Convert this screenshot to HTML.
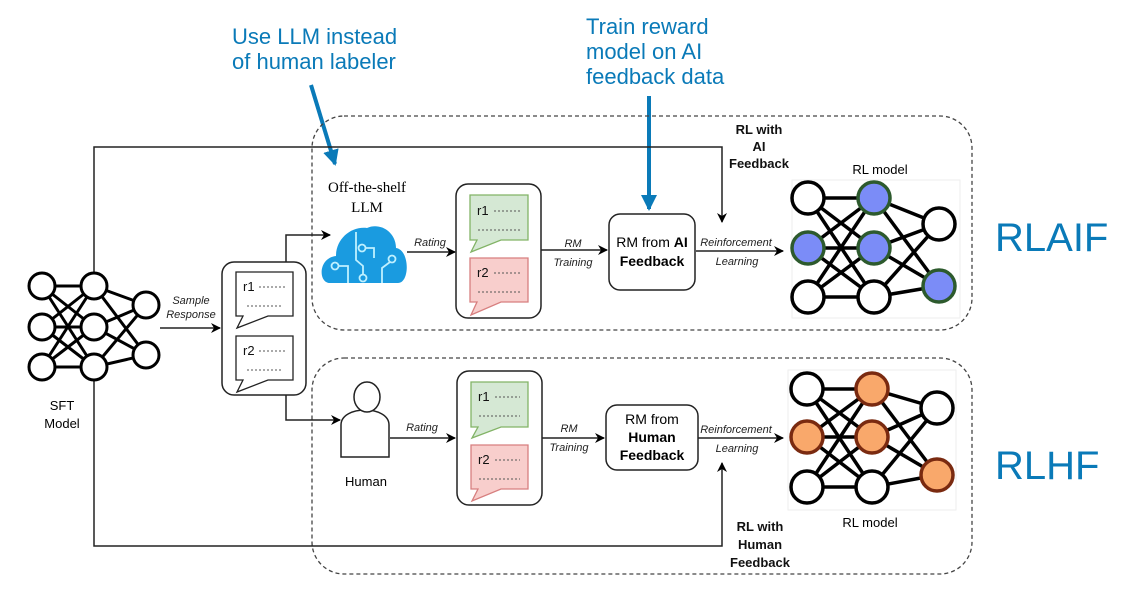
<!DOCTYPE html>
<html><head><meta charset="utf-8"><style>
html,body{margin:0;padding:0;background:#fff;}
svg{display:block;}
text{font-family:"Liberation Sans",sans-serif;}
</style></head><body>
<svg width="1138" height="606" viewBox="0 0 1138 606" xmlns="http://www.w3.org/2000/svg">
<defs>
<marker id="ar" markerWidth="10" markerHeight="10" refX="9" refY="5" orient="auto" markerUnits="userSpaceOnUse"><path d="M0,0 L10,5 L0,10 L3,5 Z" fill="#000"/></marker>
<marker id="ab" markerWidth="20" markerHeight="20" refX="14" refY="8" orient="auto" markerUnits="userSpaceOnUse"><path d="M0,0 L16,8 L0,16 Z" fill="#0a7ab8"/></marker>
</defs>

<!-- annotations -->
<g fill="#0a7ab8" font-size="22">
<text x="232" y="44">Use LLM instead</text>
<text x="232" y="69">of human labeler</text>
<text x="586" y="34">Train reward</text>
<text x="586" y="59">model on AI</text>
<text x="586" y="84">feedback data</text>
<text x="995" y="251" font-size="40">RLAIF</text>
<text x="995" y="479" font-size="40">RLHF</text>
</g>
<line x1="311" y1="85" x2="335" y2="164" stroke="#0a7ab8" stroke-width="4" marker-end="url(#ab)"/>
<line x1="649" y1="96" x2="649" y2="209" stroke="#0a7ab8" stroke-width="4" marker-end="url(#ab)"/>

<!-- dashed boxes -->
<rect x="312" y="116" width="660" height="214" rx="32" fill="none" stroke="#444" stroke-width="1.3" stroke-dasharray="4,3"/>
<rect x="312" y="358" width="660" height="216" rx="32" fill="none" stroke="#444" stroke-width="1.3" stroke-dasharray="4,3"/>

<!-- connectors -->
<g stroke="#222" stroke-width="1.5" fill="none">
<polyline points="94,272 94,147 722,147 722,222" marker-end="url(#ar)"/>
<polyline points="94,380 94,546 722,546 722,463" marker-end="url(#ar)"/>
<line x1="160" y1="328" x2="220" y2="328" marker-end="url(#ar)"/>
<polyline points="286,262 286,235 330,235" marker-end="url(#ar)"/>
<polyline points="286,395 286,420 340,420" marker-end="url(#ar)"/>
<line x1="407" y1="252" x2="455" y2="252" marker-end="url(#ar)"/>
<line x1="541" y1="250" x2="607" y2="250" marker-end="url(#ar)"/>
<line x1="696" y1="251" x2="783" y2="251" marker-end="url(#ar)"/>
<line x1="390" y1="438" x2="455" y2="438" marker-end="url(#ar)"/>
<line x1="542" y1="438" x2="604" y2="438" marker-end="url(#ar)"/>
<line x1="698" y1="438" x2="783" y2="438" marker-end="url(#ar)"/>
</g>

<g font-size="11" font-style="italic" fill="#222" text-anchor="middle">
<text x="191" y="304">Sample</text><text x="191" y="318">Response</text>
<text x="430" y="246">Rating</text>
<text x="573" y="247">RM</text><text x="573" y="266">Training</text>
<text x="736" y="246">Reinforcement</text><text x="737" y="265">Learning</text>
<text x="422" y="431">Rating</text>
<text x="569" y="432">RM</text><text x="569" y="451">Training</text>
<text x="736" y="433">Reinforcement</text><text x="737" y="452">Learning</text>
</g>

<g font-size="13" font-weight="bold" fill="#111" text-anchor="middle">
<text x="759" y="134">RL with</text><text x="759" y="151">AI</text><text x="759" y="168">Feedback</text>
<text x="760" y="531">RL with</text><text x="760" y="549">Human</text><text x="760" y="567">Feedback</text>
</g>

<!-- SFT network -->
<g stroke="#000" stroke-width="3">
<line x1="42" y1="286" x2="94" y2="286"/><line x1="42" y1="286" x2="94" y2="327"/><line x1="42" y1="286" x2="94" y2="367"/>
<line x1="42" y1="327" x2="94" y2="286"/><line x1="42" y1="327" x2="94" y2="327"/><line x1="42" y1="327" x2="94" y2="367"/>
<line x1="42" y1="367" x2="94" y2="286"/><line x1="42" y1="367" x2="94" y2="327"/><line x1="42" y1="367" x2="94" y2="367"/>
<line x1="94" y1="286" x2="146" y2="305"/><line x1="94" y1="286" x2="146" y2="355"/>
<line x1="94" y1="327" x2="146" y2="305"/><line x1="94" y1="327" x2="146" y2="355"/>
<line x1="94" y1="367" x2="146" y2="305"/><line x1="94" y1="367" x2="146" y2="355"/>
</g>
<g fill="#fff" stroke="#000" stroke-width="3">
<circle cx="42" cy="286" r="13"/><circle cx="42" cy="327" r="13"/><circle cx="42" cy="367" r="13"/>
<circle cx="94" cy="286" r="13"/><circle cx="94" cy="327" r="13"/><circle cx="94" cy="367" r="13"/>
<circle cx="146" cy="305" r="13"/><circle cx="146" cy="355" r="13"/>
</g>
<text x="62" y="410" font-size="13" text-anchor="middle">SFT</text>
<text x="62" y="428" font-size="13" text-anchor="middle">Model</text>

<!-- response box -->
<rect x="222" y="262" width="84" height="133" rx="12" fill="#fff" stroke="#222" stroke-width="1.5"/>
<g fill="#fff" stroke="#222" stroke-width="1.3">
<path d="M236,272 H293 V316 H268 L237,328 L243,316 H236 Z"/>
<path d="M236,336 H293 V380 H268 L237,392 L243,380 H236 Z"/>
</g>
<g font-size="13" fill="#111"><text x="243" y="291">r1</text><text x="243" y="355">r2</text></g>
<g stroke="#555" stroke-width="1" stroke-dasharray="2,2">
<line x1="259" y1="287" x2="285" y2="287"/><line x1="247" y1="306" x2="281" y2="306"/>
<line x1="259" y1="351" x2="285" y2="351"/><line x1="247" y1="370" x2="281" y2="370"/>
</g>

<!-- cloud LLM -->
<text x="367" y="192" font-size="15" text-anchor="middle" style="font-family:'Liberation Serif',serif">Off-the-shelf</text>
<text x="367" y="212" font-size="15" text-anchor="middle" style="font-family:'Liberation Serif',serif">LLM</text>
<path d="M330,283 C318,283 318,258 336,256 C336,238 352,226 367,228 C380,222 396,232 396,248 C410,250 410,283 398,283 Z" fill="#1a9be0"/>
<g stroke="#bff0ff" stroke-width="1.8" fill="none">
<polyline points="356,232 356,260 363,266 363,275"/>
<polyline points="348,283 348,266 338,266"/>
<circle cx="335" cy="266" r="3.5"/>
<circle cx="363" cy="278" r="3.5"/>
<polyline points="366,248 374,248 374,258"/>
<circle cx="362" cy="248" r="3.5"/>
<polyline points="382,283 382,268 390,262"/>
<circle cx="392" cy="259" r="3.5"/>
</g>

<!-- rating box top -->
<rect x="456" y="184" width="85" height="134" rx="12" fill="#fff" stroke="#222" stroke-width="1.5"/>
<path d="M470,195 H528 V240 H501 L471,252 L477,240 H470 Z" fill="#d5e8d4" stroke="#82b366" stroke-width="1.3"/>
<path d="M470,258 H528 V302 H501 L471,315 L477,302 H470 Z" fill="#f8cecc" stroke="#d77f7f" stroke-width="1.3"/>
<g font-size="13" fill="#111"><text x="477" y="215">r1</text><text x="477" y="277">r2</text></g>
<g stroke="#555" stroke-width="1" stroke-dasharray="2,2">
<line x1="494" y1="211" x2="520" y2="211"/><line x1="478" y1="230" x2="520" y2="230"/>
<line x1="494" y1="273" x2="520" y2="273"/><line x1="478" y1="292" x2="520" y2="292"/>
</g>

<!-- rating box bottom -->
<rect x="457" y="371" width="85" height="134" rx="12" fill="#fff" stroke="#222" stroke-width="1.5"/>
<path d="M471,382 H528 V427 H501 L472,438 L478,427 H471 Z" fill="#d5e8d4" stroke="#82b366" stroke-width="1.3"/>
<path d="M471,445 H528 V489 H501 L472,501 L478,489 H471 Z" fill="#f8cecc" stroke="#d77f7f" stroke-width="1.3"/>
<g font-size="13" fill="#111"><text x="478" y="401">r1</text><text x="478" y="464">r2</text></g>
<g stroke="#555" stroke-width="1" stroke-dasharray="2,2">
<line x1="495" y1="397" x2="520" y2="397"/><line x1="479" y1="416" x2="520" y2="416"/>
<line x1="495" y1="460" x2="520" y2="460"/><line x1="479" y1="479" x2="520" y2="479"/>
</g>

<!-- RM boxes -->
<rect x="609" y="214" width="86" height="76" rx="11" fill="#fff" stroke="#222" stroke-width="1.5"/>
<text x="652" y="247" font-size="14" text-anchor="middle">RM from <tspan font-weight="bold">AI</tspan></text>
<text x="652" y="266" font-size="14" font-weight="bold" text-anchor="middle">Feedback</text>
<rect x="606" y="405" width="92" height="65" rx="11" fill="#fff" stroke="#222" stroke-width="1.5"/>
<text x="652" y="424" font-size="14" text-anchor="middle">RM from</text>
<text x="652" y="442" font-size="14" font-weight="bold" text-anchor="middle">Human</text>
<text x="652" y="460" font-size="14" font-weight="bold" text-anchor="middle">Feedback</text>

<!-- human -->
<g fill="#fff" stroke="#222" stroke-width="1.5">
<path d="M341,457 V425 C341,405 389,405 389,425 V457 Z"/>
<ellipse cx="367" cy="397" rx="13" ry="15"/>
</g>
<text x="366" y="486" font-size="13" text-anchor="middle">Human</text>

<!-- RL model top -->
<text x="880" y="174" font-size="13" text-anchor="middle">RL model</text>
<rect x="792" y="180" width="168" height="138" fill="#fff" stroke="#eee"/>
<g stroke="#000" stroke-width="3.5">
<line x1="808" y1="198" x2="874" y2="198"/><line x1="808" y1="198" x2="874" y2="248"/><line x1="808" y1="198" x2="874" y2="297"/>
<line x1="808" y1="248" x2="874" y2="198"/><line x1="808" y1="248" x2="874" y2="248"/><line x1="808" y1="248" x2="874" y2="297"/>
<line x1="808" y1="297" x2="874" y2="198"/><line x1="808" y1="297" x2="874" y2="248"/><line x1="808" y1="297" x2="874" y2="297"/>
<line x1="874" y1="198" x2="939" y2="224"/><line x1="874" y1="198" x2="939" y2="286"/>
<line x1="874" y1="248" x2="939" y2="224"/><line x1="874" y1="248" x2="939" y2="286"/>
<line x1="874" y1="297" x2="939" y2="224"/><line x1="874" y1="297" x2="939" y2="286"/>
</g>
<g stroke-width="3.5">
<circle cx="808" cy="198" r="16" fill="#fff" stroke="#000"/>
<circle cx="808" cy="248" r="16" fill="#7b8cf7" stroke="#2d5a2d"/>
<circle cx="808" cy="297" r="16" fill="#fff" stroke="#000"/>
<circle cx="874" cy="198" r="16" fill="#7b8cf7" stroke="#2d5a2d"/>
<circle cx="874" cy="248" r="16" fill="#7b8cf7" stroke="#2d5a2d"/>
<circle cx="874" cy="297" r="16" fill="#fff" stroke="#000"/>
<circle cx="939" cy="224" r="16" fill="#fff" stroke="#000"/>
<circle cx="939" cy="286" r="16" fill="#7b8cf7" stroke="#2d5a2d"/>
</g>

<!-- RL model bottom -->
<rect x="788" y="370" width="168" height="140" fill="#fff" stroke="#eee"/>
<g stroke="#000" stroke-width="3.5">
<line x1="807" y1="389" x2="872" y2="389"/><line x1="807" y1="389" x2="872" y2="437"/><line x1="807" y1="389" x2="872" y2="487"/>
<line x1="807" y1="437" x2="872" y2="389"/><line x1="807" y1="437" x2="872" y2="437"/><line x1="807" y1="437" x2="872" y2="487"/>
<line x1="807" y1="487" x2="872" y2="389"/><line x1="807" y1="487" x2="872" y2="437"/><line x1="807" y1="487" x2="872" y2="487"/>
<line x1="872" y1="389" x2="937" y2="408"/><line x1="872" y1="389" x2="937" y2="475"/>
<line x1="872" y1="437" x2="937" y2="408"/><line x1="872" y1="437" x2="937" y2="475"/>
<line x1="872" y1="487" x2="937" y2="408"/><line x1="872" y1="487" x2="937" y2="475"/>
</g>
<g stroke-width="3.5" stroke="#000">
<circle cx="807" cy="389" r="16" fill="#fff"/>
<circle cx="807" cy="437" r="16" fill="#f9a86b" stroke="#7a2a10"/>
<circle cx="807" cy="487" r="16" fill="#fff"/>
<circle cx="872" cy="389" r="16" fill="#f9a86b" stroke="#7a2a10"/>
<circle cx="872" cy="437" r="16" fill="#f9a86b" stroke="#7a2a10"/>
<circle cx="872" cy="487" r="16" fill="#fff"/>
<circle cx="937" cy="408" r="16" fill="#fff"/>
<circle cx="937" cy="475" r="16" fill="#f9a86b" stroke="#7a2a10"/>
</g>
<text x="870" y="527" font-size="13" text-anchor="middle">RL model</text>
</svg>
</body></html>
